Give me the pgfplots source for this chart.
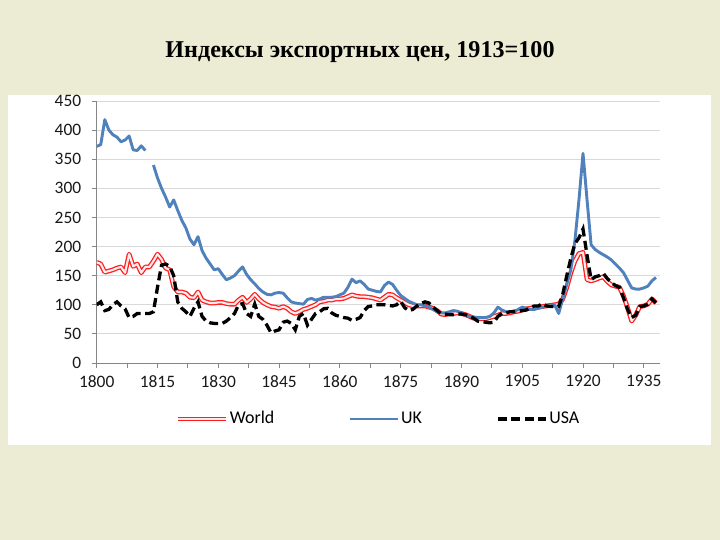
\documentclass[border=0pt]{standalone}
\usepackage{pgfplots}
\pgfplotsset{compat=1.18}
\usepackage{fontspec}
\setmainfont{Liberation Serif}
\newfontfamily\carlito{Carlito}
\definecolor{bgbeige}{RGB}{236,236,212}
\definecolor{axisgray}{RGB}{134,134,134}
\definecolor{gridgray}{RGB}{217,217,217}
\definecolor{ukblue}{RGB}{79,129,189}
\definecolor{worldred}{RGB}{255,30,30}
\definecolor{worldin}{RGB}{255,235,235}
\begin{document}
\begin{tikzpicture}
\fill[bgbeige] (0bp,0bp) rectangle (720bp,540bp);
\path[use as bounding box] (0bp,0bp) rectangle (720bp,540bp);
\fill[white] (8bp,95bp) rectangle (711bp,445bp);
\node[anchor=base, font=\bfseries\fontsize{24.2}{29}\selectfont] at (360bp,482bp) {Индексы экспортных цен, 1913=100};
\begin{axis}[
  at={(96.7bp,177bp)}, anchor=south west,
  scale only axis, width=563.3bp, height=262bp,
  xmin=1800, xmax=1939, ymin=0, ymax=450,
  axis x line*=bottom, axis y line*=left,
  axis line style={draw=axisgray, line width=0.8bp},
  xtick={1800,1815,...,1935}, minor x tick num=1,
  ytick={0,50,...,450},
  tick align=outside, major tick length=5bp, minor tick length=5bp,
  every tick/.style={axisgray, line width=0.8bp},
  minor tick style={axisgray, line width=0.8bp},
  ymajorgrids, grid style={gridgray, line width=0.8bp},
  /pgf/number format/assume math mode=true,
  /pgf/number format/1000 sep={},
  ticklabel style={font=\carlito\fontsize{17.5}{20}\selectfont, text=black!90},
  yticklabel style={xshift=-7bp},
  xticklabel style={yshift=-4bp},
  unbounded coords=jump,
  legend cell align=left,
  legend columns=3,
  legend image code/.code={\draw[#1] (0bp,0bp) -- (48bp,0bp);},
  legend style={draw=none, fill=none, inner sep=0pt,
    at={(axis description cs:0.1390,-0.2137)}, anchor=west,
    font=\carlito\fontsize{18}{21}\selectfont,
    nodes={text height=12bp, text depth=3bp},
    /tikz/every even column/.append style={column sep=72bp}},
]
\addplot[worldred, line width=1.3bp, double=worldin, double distance=2.1bp, line join=round] coordinates {
(1800,173)(1801,170)(1802,156)(1803,158)(1804,160)(1805,163)(1806,165)(1807,155)(1808,187)(1809,166)
(1810,170)(1811,155)(1812,165)(1813,165)(1814,175)(1815,187)(1816,178)(1817,163)(1818,160)(1819,131)
(1820,122)(1821,122)(1822,120)(1823,113)(1824,112)(1825,122)(1826,108)(1827,105)(1828,103)(1829,103)
(1830,104)(1831,104)(1832,102)(1833,101)(1834,101)(1835,108)(1836,113)(1837,104)(1838,110)(1839,118)
(1840,110)(1841,104)(1842,100)(1843,97)(1844,96)(1845,94)(1846,97)(1847,94)(1848,88)(1849,85)
(1850,88)(1851,92)(1852,94)(1853,97)(1854,100)(1855,105)(1856,106)(1857,108)(1858,108)(1859,110)
(1860,110)(1861,111)(1862,114)(1863,117)(1864,115)(1865,114)(1866,114)(1867,113)(1868,112)(1869,110)
(1870,108)(1871,113)(1872,118)(1873,117)(1874,112)(1875,108)(1876,104)(1877,100)(1878,98)(1879,98)
(1880,98)(1881,98)(1882,96)(1883,94)(1884,90)(1885,84)(1886,83)(1887,85)(1888,85)(1889,86)
(1890,85)(1891,83)(1892,80)(1893,77)(1894,76)(1895,76)(1896,76)(1897,78)(1898,80)(1899,82)
(1900,85)(1901,85)(1902,86)(1903,88)(1904,89)(1905,91)(1906,93)(1907,94)(1908,95)(1909,96)
(1910,97)(1911,98)(1912,99)(1913,100)(1914,101)(1915,110)(1916,130)(1917,155)(1918,175)(1919,188)
(1920,190)(1921,143)(1922,141)(1923,143)(1924,146)(1925,148)(1926,140)(1927,134)(1928,132)(1929,130)
(1930,115)(1931,95)(1932,72)(1933,82)(1934,97)(1935,98)(1936,101)(1937,110)(1938,103)
};
\addlegendentry{World}
\addplot[ukblue, line width=2.9bp, line join=round] coordinates {
(1800,372)(1801,375)(1802,418)(1803,400)(1804,392)(1805,388)(1806,380)(1807,383)(1808,390)(1809,366)
(1810,365)(1811,373)(1812,365)(1813,nan)(1814,340)(1815,318)(1816,300)(1817,285)(1818,268)(1819,280)
(1820,262)(1821,245)(1822,232)(1823,213)(1824,203)(1825,217)(1826,193)(1827,180)(1828,170)(1829,160)
(1830,162)(1831,152)(1832,143)(1833,146)(1834,150)(1835,158)(1836,165)(1837,152)(1838,143)(1839,136)
(1840,128)(1841,122)(1842,118)(1843,117)(1844,120)(1845,121)(1846,120)(1847,112)(1848,105)(1849,103)
(1850,102)(1851,101)(1852,109)(1853,111)(1854,108)(1855,110)(1856,113)(1857,113)(1858,113)(1859,114)
(1860,117)(1861,120)(1862,130)(1863,144)(1864,138)(1865,141)(1866,135)(1867,127)(1868,125)(1869,123)
(1870,122)(1871,133)(1872,139)(1873,135)(1874,125)(1875,116)(1876,111)(1877,106)(1878,103)(1879,100)
(1880,100)(1881,98)(1882,96)(1883,92)(1884,88)(1885,86)(1886,86)(1887,88)(1888,90)(1889,89)
(1890,86)(1891,82)(1892,80)(1893,79)(1894,78)(1895,78)(1896,78)(1897,80)(1898,86)(1899,96)
(1900,91)(1901,88)(1902,88)(1903,88)(1904,92)(1905,96)(1906,94)(1907,92)(1908,92)(1909,94)
(1910,96)(1911,97)(1912,98)(1913,100)(1914,85)(1915,110)(1916,135)(1917,160)(1918,210)(1919,280)
(1920,360)(1921,280)(1922,203)(1923,195)(1924,190)(1925,186)(1926,182)(1927,177)(1928,170)(1929,163)
(1930,155)(1931,142)(1932,129)(1933,127)(1934,127)(1935,129)(1936,132)(1937,141)(1938,147)
};
\addlegendentry{UK}
\addplot[black, line width=3.3bp, dash pattern=on 9bp off 4.5bp] coordinates {
(1800,100)(1801,105)(1802,90)(1803,92)(1804,100)(1805,105)(1806,98)(1807,93)(1808,78)(1809,80)
(1810,85)(1811,85)(1812,85)(1813,85)(1814,88)(1815,130)(1816,168)(1817,170)(1818,166)(1819,150)
(1820,105)(1821,94)(1822,88)(1823,80)(1824,94)(1825,105)(1826,80)(1827,72)(1828,69)(1829,68)
(1830,68)(1831,68)(1832,72)(1833,78)(1834,85)(1835,100)(1836,102)(1837,85)(1838,80)(1839,101)
(1840,80)(1841,75)(1842,65)(1843,52)(1844,55)(1845,57)(1846,70)(1847,72)(1848,68)(1849,57)
(1850,80)(1851,85)(1852,65)(1853,75)(1854,85)(1855,88)(1856,93)(1857,94)(1858,86)(1859,82)
(1860,80)(1861,78)(1862,77)(1863,73)(1864,75)(1865,78)(1866,90)(1867,97)(1868,98)(1869,100)
(1870,100)(1871,100)(1872,99)(1873,98)(1874,100)(1875,106)(1876,95)(1877,90)(1878,92)(1879,98)
(1880,102)(1881,105)(1882,103)(1883,96)(1884,90)(1885,85)(1886,84)(1887,83)(1888,83)(1889,84)
(1890,84)(1891,83)(1892,80)(1893,77)(1894,72)(1895,71)(1896,70)(1897,69)(1898,70)(1899,80)
(1900,85)(1901,86)(1902,88)(1903,88)(1904,89)(1905,90)(1906,91)(1907,95)(1908,98)(1909,98)
(1910,102)(1911,98)(1912,97)(1913,97)(1914,97)(1915,118)(1916,150)(1917,180)(1918,205)(1919,215)
(1920,230)(1921,185)(1922,143)(1923,148)(1924,150)(1925,154)(1926,145)(1927,138)(1928,133)(1929,130)
(1930,112)(1931,92)(1932,78)(1933,82)(1934,97)(1935,98)(1936,101)(1937,110)(1938,103)
};
\addlegendentry{USA}
\end{axis}
\end{tikzpicture}
\end{document}
